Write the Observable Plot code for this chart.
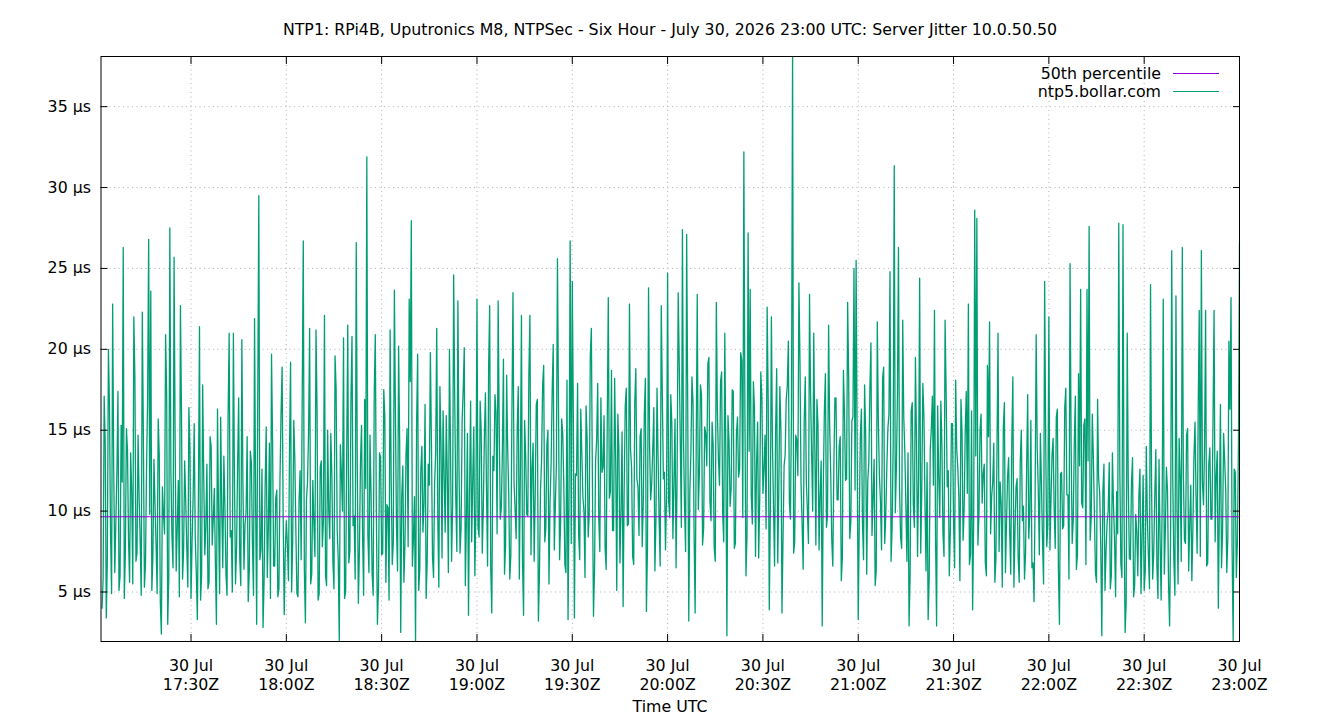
<!DOCTYPE html>
<html>
<head>
<meta charset="utf-8">
<script src="https://cdn.jsdelivr.net/npm/d3@7"></script>
<script src="https://cdn.jsdelivr.net/npm/@observablehq/plot@0.6"></script>
<style>
  body { margin: 0; background: #fff; font-family: "DejaVu Sans", sans-serif; color: #000; }
  #wrap { position: relative; width: 1340px; height: 720px; overflow: hidden; background: #fff; }
  .txt { position: absolute; font-size: 15.8px; line-height: 20px; white-space: nowrap; }
  #title { top: 19.5px; left: 0; width: 1340px; text-align: center; }
  #xlabel { top: 697px; left: 0; width: 1340px; text-align: center; }
  #chart { position: absolute; top: 44px; left: 0; }
  .legtext { right: 179px; text-align: right; }
  .legline { position: absolute; left: 1173px; width: 46px; height: 1px; }
</style>
</head>
<body>
<div id="wrap">
  <div id="title" class="txt"></div>
  <div id="chart"></div>
  <div id="legend"></div>
  <div id="xlabel" class="txt"></div>
</div>
<script>
// ---- Data ----
const titleText = "NTP1: RPi4B, Uputronics M8, NTPSec - Six Hour - July 30, 2026 23:00 UTC: Server Jitter 10.0.50.50";
const xLabelText = "Time UTC";
const seriesNames = ["50th percentile", "ntp5.bollar.com"];
const seriesColors = ["#9400d3", "#009e73"];

// sampling: first sample 17:02:00 UTC, one sample every 20 s, last at 23:00:00
const firstSample = "2026-07-30T17:02:00Z";
const sampleSeconds = 20;
const xDomainStrings = ["2026-07-30T17:01:40Z", "2026-07-30T23:00:00Z"];
const xTickStrings = ["17:30", "18:00", "18:30", "19:00", "19:30", "20:00", "20:30", "21:00", "21:30", "22:00", "22:30", "23:00"];
const yTicks = [5, 10, 15, 20, 25, 30, 35];
const yDomain = [1.94, 38.1];
const median50 = 9.65; // µs

// server jitter in µs: even samples (on the 40 s grid), one array per hour
const jitter17 = [
  4.0, 17.1, 3.4, 20.0, 8.6, 22.8, 6.2, 12.4, 5.1, 15.3,
  26.3, 7.4, 13.8, 5.6, 11.2, 22.0, 6.9, 14.7, 8.1, 22.3,
  5.3, 12.6, 26.8, 23.6, 7.2, 10.4, 4.9, 13.5, 2.4, 9.8,
  20.9, 3.0, 27.5, 8.4, 25.7, 6.3, 11.9, 22.7, 5.8, 13.1,
  7.7, 16.4, 4.6, 10.9, 8.3, 3.3, 21.4, 6.0, 12.2, 9.1,
  5.2, 14.6, 7.9, 11.4, 3.0, 9.6, 15.8, 6.5, 10.3, 4.8,
  21.0, 8.8, 21.0, 5.5, 12.9, 7.1, 20.6, 6.4, 9.9, 4.4,
  13.7, 8.0, 21.9, 3.0, 29.5, 7.6, 2.8, 11.6, 5.9, 14.2,
  19.7, 6.6, 10.8, 4.7, 12.0, 18.9, 3.6
];
const jitter18 = [
  9.4, 5.7, 19.2, 8.2, 13.3, 4.9, 10.6, 7.0, 26.7, 3.1,
  11.8, 21.3, 6.1, 9.2, 21.2, 4.5, 12.7, 7.8, 22.1, 5.4,
  10.1, 14.8, 6.8, 19.6, 8.9, 2.0, 12.3, 20.7, 5.0, 21.5,
  7.5, 20.8, 9.7, 26.6, 4.3, 13.0, 8.5, 16.9, 31.9, 6.2,
  11.1, 4.8, 20.9, 3.0, 13.6, 7.3, 17.5, 5.6, 10.2, 21.2,
  6.7, 23.65, 9.0, 20.2, 2.5, 12.8, 7.9, 15.1, 23.1, 27.95,
  8.3, 1.9, 19.7, 6.4, 14.0, 10.5, 4.6, 12.9, 19.8, 7.2,
  11.7, 21.3, 5.3, 14.4, 16.2, 8.7, 12.1, 20.0, 6.9, 24.6,
  10.8, 23.0, 7.4, 15.6, 20.1, 9.3, 3.56, 16.8, 11.9, 6.0
];
const jitter19 = [
  23.1, 8.4, 14.9, 10.2, 17.3, 6.6, 22.7, 3.7, 12.5, 16.1,
  23.0, 9.5, 13.7, 6.1, 18.4, 11.0, 7.3, 23.5, 10.1, 15.2,
  5.8, 22.1, 3.56, 13.4, 9.7, 22.1, 12.6, 6.9, 16.6, 3.2,
  11.3, 17.8, 8.1, 14.1, 5.5, 12.9, 20.3, 10.4, 25.6, 7.0,
  15.7, 11.6, 6.2, 3.3, 26.7, 24.2, 3.4, 12.2, 8.6, 16.3,
  10.9, 5.9, 14.5, 9.8, 21.3, 3.5, 13.1, 17.9, 7.5, 12.4,
  15.9, 6.4, 23.2, 11.2, 8.8, 18.2, 5.1, 13.8, 10.0, 4.1,
  16.5, 9.1, 22.8, 12.7, 6.7, 18.8, 11.5, 14.6, 7.8, 16.0,
  3.8, 23.8, 10.7, 13.9, 6.3, 17.6, 9.4, 22.7, 12.0, 7.6
];
const jitter20 = [
  24.7, 9.6, 15.4, 11.8, 6.5, 23.5, 14.2, 27.4, 10.3, 27.1,
  3.2, 13.6, 16.7, 3.7, 23.4, 12.3, 17.2, 8.9, 14.8, 19.1,
  10.6, 15.5, 7.7, 22.9, 13.2, 18.0, 9.9, 21.0, 2.3, 14.3,
  11.4, 17.4, 8.0, 15.8, 12.6, 19.3, 32.2, 6.0, 27.2, 23.7,
  9.2, 16.4, 12.9, 7.1, 18.6, 11.1, 14.7, 22.6, 3.9, 22.0,
  10.2, 15.0, 6.8, 17.7, 3.7, 12.8, 16.9, 20.5, 9.5, 38.5,
  8.1, 14.4, 24.1, 11.7, 6.4, 18.3, 10.0, 23.4, 13.5, 21.0,
  7.9, 15.3, 11.0, 2.9, 16.1, 9.0, 21.5, 12.4, 6.6, 17.0,
  10.7, 14.0, 5.7, 18.7, 11.9, 22.9, 8.3, 15.6, 25.0, 25.5
];
const jitter21 = [
  3.3, 14.6, 9.3, 17.8, 6.1, 13.0, 20.4, 10.8, 5.4, 21.7,
  12.2, 7.6, 18.9, 9.7, 15.1, 24.8, 9.0, 31.35, 12.6, 26.3,
  8.4, 21.8, 13.7, 6.9, 2.9, 16.2, 10.4, 19.5, 7.2, 24.4,
  11.3, 15.9, 6.3, 3.3, 13.8, 17.1, 22.4, 2.9, 12.1, 16.8,
  8.6, 21.8, 11.5, 6.0, 15.4, 9.4, 18.1, 12.7, 5.7, 14.9,
  10.1, 17.4, 22.8, 7.3, 3.9, 28.6, 28.1, 9.8, 16.0, 12.3,
  6.8, 19.0, 21.7, 10.9, 14.2, 7.0, 21.0, 11.8, 5.3, 16.7,
  9.2, 13.3, 6.1, 18.3, 8.7, 12.0, 5.6, 15.0, 10.3, 7.4,
  17.2, 9.9, 6.5, 4.4, 20.9, 11.4, 14.8, 8.2, 24.2, 7.8
];
const jitter22 = [
  22.0, 10.6, 14.5, 7.7, 16.3, 3.0, 12.4, 9.1, 17.6, 11.0,
  25.3, 8.0, 14.1, 6.4, 18.5, 23.7, 10.2, 15.7, 23.7, 27.6,
  9.6, 13.4, 6.2, 16.9, 11.1, 2.3, 12.9, 7.5, 10.0, 5.2,
  13.6, 8.3, 11.2, 27.8, 6.7, 27.7, 2.5, 21.0, 7.1, 11.7,
  4.7, 9.8, 6.0, 12.6, 8.4, 5.1, 14.0, 7.2, 24.0, 5.8,
  10.9, 6.6, 13.2, 4.5, 23.1, 8.9, 11.3, 2.9, 26.1, 7.0,
  23.3, 5.5, 12.1, 26.3, 8.2, 14.7, 6.3, 11.6, 9.0, 15.5,
  7.4, 22.4, 26.1, 10.4, 22.4, 6.8, 13.9, 9.5, 22.4, 12.2,
  4.0, 16.6, 8.7, 13.1, 6.2, 20.5, 23.2, 2.0, 12.4, 8.1, 26.6
];

// odd samples (20 s after each even sample), one array per hour
const mid17 = [
  5.8, 14.2, 7.1, 16.5, 4.9, 12.7, 9.3, 17.4, 6.0, 11.8,
  4.6, 15.1, 8.2, 13.6, 5.5, 18.3, 7.4, 10.9, 4.8, 14.8,
  6.7, 16.9, 9.8, 5.1, 13.2, 7.9, 15.7, 4.4, 11.5, 8.6,
  17.2, 5.9, 12.4, 6.5, 14.5, 9.0, 4.7, 16.1, 7.6, 10.6,
  5.3, 13.9, 8.1, 15.4, 6.2, 11.1, 4.5, 17.8, 7.3, 12.9,
  5.6, 14.0, 9.5, 6.8, 16.3, 4.9, 10.2, 13.4, 6.1, 15.9,
  8.4, 5.0, 12.1, 7.7, 17.0, 5.4, 11.7, 9.2, 14.6, 6.3,
  13.0, 4.8, 10.5, 16.7, 7.0, 12.6, 5.7, 15.2, 8.9, 4.6,
  14.3, 6.6, 11.3, 5.2, 16.0, 9.7, 7.5
];
const mid18 = [
  7.9, 13.8, 5.0, 15.6, 8.8, 4.7, 12.5, 17.1, 6.4, 10.7,
  14.9, 5.5, 11.9, 7.2, 16.4, 4.9, 13.1, 9.4, 6.0, 15.0,
  8.3, 12.2, 5.2, 17.6, 7.0, 14.1, 10.0, 4.6, 13.7, 6.8,
  16.8, 9.1, 5.8, 12.8, 7.6, 15.3, 4.8, 11.4, 8.5, 14.7,
  6.1, 17.3, 9.9, 5.3, 13.3, 7.4, 15.8, 10.4, 4.5, 12.0,
  8.0, 16.2, 6.3, 14.4, 11.0, 5.6, 13.5, 7.8, 18.0, 6.6,
  10.9, 15.5, 5.1, 12.6, 8.7, 16.6, 6.9, 11.6, 14.3, 5.9,
  13.6, 9.6, 17.7, 7.1, 12.3, 15.9, 6.2, 14.0, 10.3, 16.9,
  7.5, 13.0, 9.0, 17.5, 5.4, 14.8, 11.2, 8.1, 15.2, 10.1
];
const mid19 = [
  9.0, 16.8, 7.4, 14.6, 11.3, 18.9, 6.5, 13.4, 17.2, 8.6,
  15.3, 10.2, 19.4, 7.9, 13.9, 5.8, 16.1, 11.8, 8.3, 17.7,
  12.6, 6.9, 15.6, 9.8, 18.4, 7.3, 14.2, 11.1, 16.9, 6.2,
  13.1, 19.0, 8.9, 15.0, 10.6, 17.4, 7.6, 12.9, 16.3, 9.4,
  14.8, 6.7, 18.1, 11.5, 8.0, 15.8, 12.3, 17.9, 7.0, 13.6,
  10.0, 16.5, 8.4, 19.6, 11.9, 6.4, 14.4, 9.6, 17.0, 12.7,
  7.7, 15.4, 10.8, 18.7, 8.8, 13.2, 16.0, 6.8, 14.9, 11.4,
  17.6, 9.2, 13.8, 7.2, 16.7, 12.0, 8.5, 15.1, 10.4, 18.2,
  7.8, 14.0, 11.7, 16.4, 9.5, 13.3, 6.6, 17.3, 12.4, 10.9
];
const mid20 = [
  10.6, 17.2, 8.3, 15.7, 12.4, 19.1, 9.0, 14.5, 7.5, 16.6,
  11.2, 18.3, 8.7, 13.9, 10.1, 17.8, 7.9, 15.2, 12.8, 19.5,
  9.4, 14.1, 6.9, 16.2, 11.6, 18.6, 8.1, 13.3, 15.9, 10.3,
  17.5, 7.7, 14.8, 12.1, 19.8, 9.6, 16.0, 8.6, 13.7, 11.0,
  18.0, 7.2, 15.5, 10.8, 17.1, 12.6, 8.9, 16.8, 9.9, 14.3,
  6.6, 18.8, 11.4, 15.0, 8.4, 13.5, 17.7, 10.5, 16.4, 7.4,
  14.7, 12.2, 19.2, 9.2, 15.6, 11.8, 8.0, 17.3, 10.0, 14.0,
  16.9, 7.6, 13.1, 11.5, 18.5, 9.7, 15.3, 8.2, 12.9, 17.0,
  10.7, 14.6, 7.1, 16.1, 12.0, 18.1, 9.3, 15.8, 11.3, 13.8
];
const mid21 = [
  9.5, 16.3, 7.0, 14.7, 11.9, 17.6, 8.5, 13.2, 6.3, 15.5,
  10.6, 18.2, 8.0, 12.7, 16.0, 6.9, 14.1, 9.9, 17.1, 11.4,
  7.7, 15.8, 10.3, 13.6, 6.1, 16.7, 9.0, 14.5, 12.2, 7.4,
  17.9, 10.7, 13.0, 5.9, 15.1, 11.6, 8.4, 16.5, 9.6, 14.0,
  7.2, 17.4, 12.5, 8.9, 15.4, 6.5, 13.8, 10.9, 16.9, 8.2,
  14.9, 11.1, 6.7, 16.2, 9.3, 13.4, 7.9, 15.0, 10.5, 12.9,
  6.0, 14.6, 8.6, 11.8, 5.6, 13.7, 7.5, 10.4, 15.2, 6.2,
  12.1, 8.8, 14.3, 5.3, 11.5, 7.1, 13.1, 9.4, 5.8, 12.6,
  8.3, 15.6, 6.8, 10.8, 13.9, 7.3, 11.7, 5.5, 14.4, 9.1
];
const mid22 = [
  7.6, 13.5, 10.2, 15.8, 6.4, 12.3, 8.9, 16.4, 11.0, 5.8,
  14.2, 9.4, 17.1, 7.3, 12.8, 10.5, 15.3, 6.7, 13.1, 8.2,
  16.0, 9.8, 5.6, 12.0, 7.8, 11.2, 5.1, 9.3, 13.0, 6.0,
  10.4, 4.7, 8.6, 12.5, 5.9, 9.9, 4.4, 11.6, 7.0, 13.3,
  5.4, 8.7, 10.9, 4.9, 12.2, 6.3, 9.6, 5.2, 11.4, 7.4,
  13.8, 4.6, 8.3, 10.6, 6.1, 12.7, 5.5, 9.0, 11.9, 4.8,
  10.1, 14.5, 6.9, 12.4, 8.0, 15.1, 9.2, 5.7, 13.4, 10.7,
  16.2, 7.2, 11.8, 14.0, 6.6, 12.9, 9.5, 15.6, 8.1, 13.7,
  10.3, 6.5, 14.8, 11.3, 8.4, 16.3, 7.7, 12.6, 5.9, 14.1
];

// ---- Build table: interleave even and odd samples in time order ----
const evenHours = [jitter17, jitter18, jitter19, jitter20, jitter21, jitter22];
const oddHours = [mid17, mid18, mid19, mid20, mid21, mid22];
const values = [];
evenHours.forEach((even, h) => {
  even.forEach((v, k) => {
    values.push(v);
    if (k < oddHours[h].length) values.push(oddHours[h][k]);
  });
});
const t0 = new Date(firstSample).getTime();
const data = values.map((v, i) => ({time: new Date(t0 + i * sampleSeconds * 1000), value: v}));
const xTicks = xTickStrings.map(s => new Date(`2026-07-30T${s}:00Z`));
const xDomain = xDomainStrings.map(s => new Date(s));

// ---- Text ----
document.getElementById("title").textContent = titleText;
document.getElementById("xlabel").textContent = xLabelText;
const legend = document.getElementById("legend");
seriesNames.forEach((name, i) => {
  const t = document.createElement("div");
  t.className = "txt legtext";
  t.style.top = (63.5 + i * 18) + "px";
  t.textContent = name;
  legend.appendChild(t);
  const l = document.createElement("div");
  l.className = "legline";
  l.style.top = (73 + i * 18) + "px";
  l.style.background = seriesColors[i];
  legend.appendChild(l);
});

// ---- Chart ----
const gridStyle = {stroke: "#b0b0b0", strokeOpacity: 1, strokeWidth: 1, strokeDasharray: "1,3.5"};
const chart = Plot.plot({
  width: 1340,
  height: 646,
  marginTop: 12,
  marginBottom: 49,
  marginLeft: 100.5,
  marginRight: 101,
  style: {fontFamily: '"DejaVu Sans", sans-serif', fontSize: "15.8px", color: "#000", background: "white", overflow: "visible"},
  x: {type: "utc", domain: xDomain, label: null},
  y: {domain: yDomain, label: null},
  marks: [
    Plot.gridX(xTicks, gridStyle),
    Plot.gridY(yTicks, gridStyle),
    Plot.lineY(data, {x: "time", y: "value", stroke: seriesColors[1], strokeWidth: 1.3, clip: true}),
    Plot.ruleY([median50], {stroke: seriesColors[0], strokeWidth: 1}),
    Plot.axisY(yTicks, {tickSize: 0, tickPadding: 10, tickFormat: d => `${d} µs`, fontSize: 15.8, label: null}),
    Plot.axisY(yTicks, {tickSize: -7, tickFormat: () => "", label: null}),
    Plot.axisY(yTicks, {anchor: "right", tickSize: -7, tickFormat: () => "", label: null}),
    Plot.axisX(xTicks, {tickSize: 0, tickPadding: 15.8, tickFormat: d3.utcFormat("%d %b\n%H:%MZ"), lineHeight: 1.2, fontSize: 15.8, label: null}),
    Plot.axisX(xTicks, {tickSize: -7, tickFormat: () => "", label: null}),
    Plot.axisX(xTicks, {anchor: "top", tickSize: -7, tickFormat: () => "", label: null}),
    Plot.frame({stroke: "black", strokeWidth: 1})
  ]
});
document.getElementById("chart").appendChild(chart);
</script>
</body>
</html>
